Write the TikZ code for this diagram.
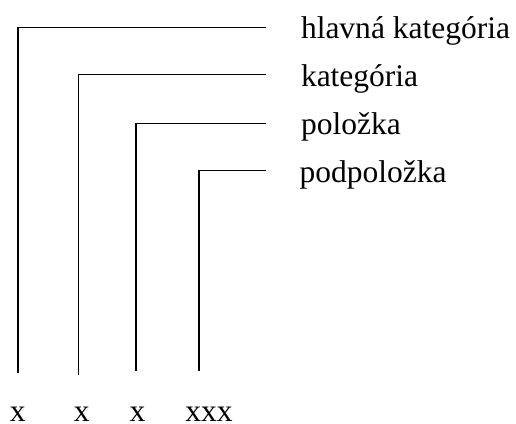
\documentclass[tikz,border=0pt]{standalone}
\usepackage{fontspec}
\setmainfont{Liberation Serif}
\begin{document}
\begin{tikzpicture}[x=1bp,y=-1bp,
  lbl/.style={inner sep=0pt,outer sep=0pt,anchor=base west,font=\fontsize{31.5bp}{36bp}\selectfont},
  xlbl/.style={inner sep=0pt,outer sep=0pt,anchor=base,font=\fontsize{31.5bp}{36bp}\selectfont},
  bracket/.style={line width=1.2bp,line cap=butt,line join=miter}]
\useasboundingbox (0,0) rectangle (516,423);
% text labels
\node[lbl] (t1) at (301,38) {hlavná kategória};
\node[lbl] (t2) at (301,86) {kategória};
\node[lbl] (t3) at (301,134.5) {položka};
\node[lbl] (t4) at (299.5,182.5) {podpoložka};
% bottom labels
\node[xlbl] (x1) at (17.8,421) {x};
\node[xlbl] (x2) at (81.7,421) {x};
\node[xlbl] (x3) at (137.5,421) {x};
\node[xlbl] (x4) at (209,421) {xxx};
% line coordinates
\coordinate (b1) at (18,373);
\coordinate (b2) at (78.7,375);
\coordinate (b3) at (136,371);
\coordinate (b4) at (199,371);
\coordinate (e1) at (265.5,27.5);
\coordinate (e2) at (265.5,74.5);
\coordinate (e3) at (265.5,123.5);
\coordinate (e4) at (265.5,170.5);
\draw[bracket] (b1) |- (e1);
\draw[bracket] (b2) |- (e2);
\draw[bracket] (b3) |- (e3);
\draw[bracket] (b4) |- (e4);
\end{tikzpicture}
\end{document}
